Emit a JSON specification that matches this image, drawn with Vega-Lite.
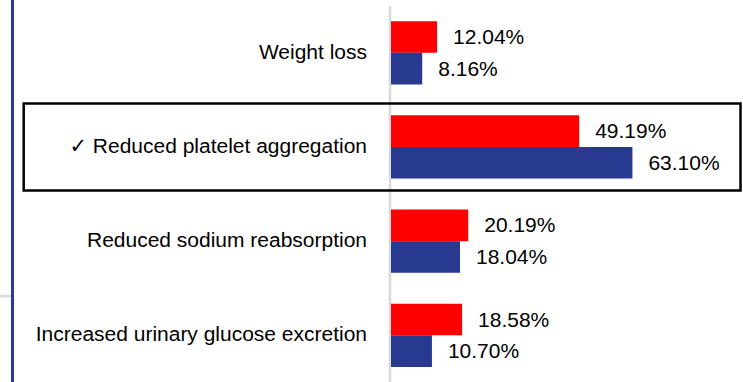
{
  "$schema": "https://vega.github.io/schema/vega-lite/v6.json",
  "autosize": "none",
  "width": 352,
  "height": 376.7,
  "padding": {"left": 391, "top": 5.7, "right": 0, "bottom": 0},
  "background": "white",
  "config": {
    "view": {"stroke": null},
    "font": "Liberation Sans, Arial, DejaVu Sans, sans-serif"
  },
  "data": {
    "values": [
      {"label": "Weight loss", "series": "Series 1", "value": 0.1204, "correct": false},
      {"label": "Weight loss", "series": "Series 2", "value": 0.0816, "correct": false},
      {"label": "✓ Reduced platelet aggregation", "series": "Series 1", "value": 0.4919, "correct": true},
      {"label": "✓ Reduced platelet aggregation", "series": "Series 2", "value": 0.6310, "correct": true},
      {"label": "Reduced sodium reabsorption", "series": "Series 1", "value": 0.2019, "correct": false},
      {"label": "Reduced sodium reabsorption", "series": "Series 2", "value": 0.1804, "correct": false},
      {"label": "Increased urinary glucose excretion", "series": "Series 1", "value": 0.1858, "correct": false},
      {"label": "Increased urinary glucose excretion", "series": "Series 2", "value": 0.1070, "correct": false}
    ]
  },
  "encoding": {
    "y": {
      "field": "label",
      "type": "nominal",
      "sort": null,
      "scale": {"paddingInner": 0, "paddingOuter": 0},
      "axis": {
        "title": null,
        "ticks": false,
        "domainColor": "#D9D9D9",
        "domainWidth": 2.5,
        "offset": 1.5,
        "labelFontSize": 21,
        "labelColor": "#000000",
        "labelPadding": 23,
        "labelLimit": 400,
        "labelFont": "Liberation Sans, Arial, DejaVu Sans, sans-serif"
      }
    }
  },
  "layer": [
    {
      "mark": {"type": "bar"},
      "encoding": {
        "yOffset": {
          "field": "series",
          "type": "nominal",
          "scale": {"paddingInner": 0, "paddingOuter": 0.49}
        },
        "x": {
          "field": "value",
          "type": "quantitative",
          "scale": {"domain": [0, 0.92], "nice": false, "zero": true},
          "axis": null
        },
        "color": {
          "field": "series",
          "type": "nominal",
          "scale": {"domain": ["Series 1", "Series 2"], "range": ["#FF0000", "#283A8F"]},
          "legend": null
        }
      }
    },
    {
      "mark": {
        "type": "text",
        "align": "left",
        "baseline": "middle",
        "dx": 16,
        "dy": 1,
        "fontSize": 21,
        "color": "#000000"
      },
      "encoding": {
        "yOffset": {"field": "series", "type": "nominal"},
        "x": {"field": "value", "type": "quantitative"},
        "text": {"field": "value", "type": "quantitative", "format": ".2%"}
      }
    },
    {
      "transform": [
        {"filter": "datum.correct && datum.series === 'Series 1'"}
      ],
      "mark": {
        "type": "bar",
        "filled": false,
        "stroke": "#000000",
        "strokeWidth": 2.5,
        "height": {"band": 0.924}
      },
      "encoding": {
        "x": {"datum": -0.96},
        "x2": {"datum": 0.9135}
      }
    },
    {
      "transform": [
        {"filter": "datum.label === 'Increased urinary glucose excretion' && datum.series === 'Series 1'"}
      ],
      "mark": {"type": "rule", "color": "#D9D9D9", "strokeWidth": 2.5},
      "encoding": {
        "y": {"field": "label", "type": "nominal", "bandPosition": 0.083},
        "x": {"datum": -1.03},
        "x2": {"datum": -0.993}
      }
    },
    {
      "mark": {"type": "rule", "color": "#2A3A9A", "strokeWidth": 2.5},
      "encoding": {
        "x": {"datum": -0.9893},
        "y": {"value": -6},
        "y2": {"value": 377}
      }
    }
  ]
}
